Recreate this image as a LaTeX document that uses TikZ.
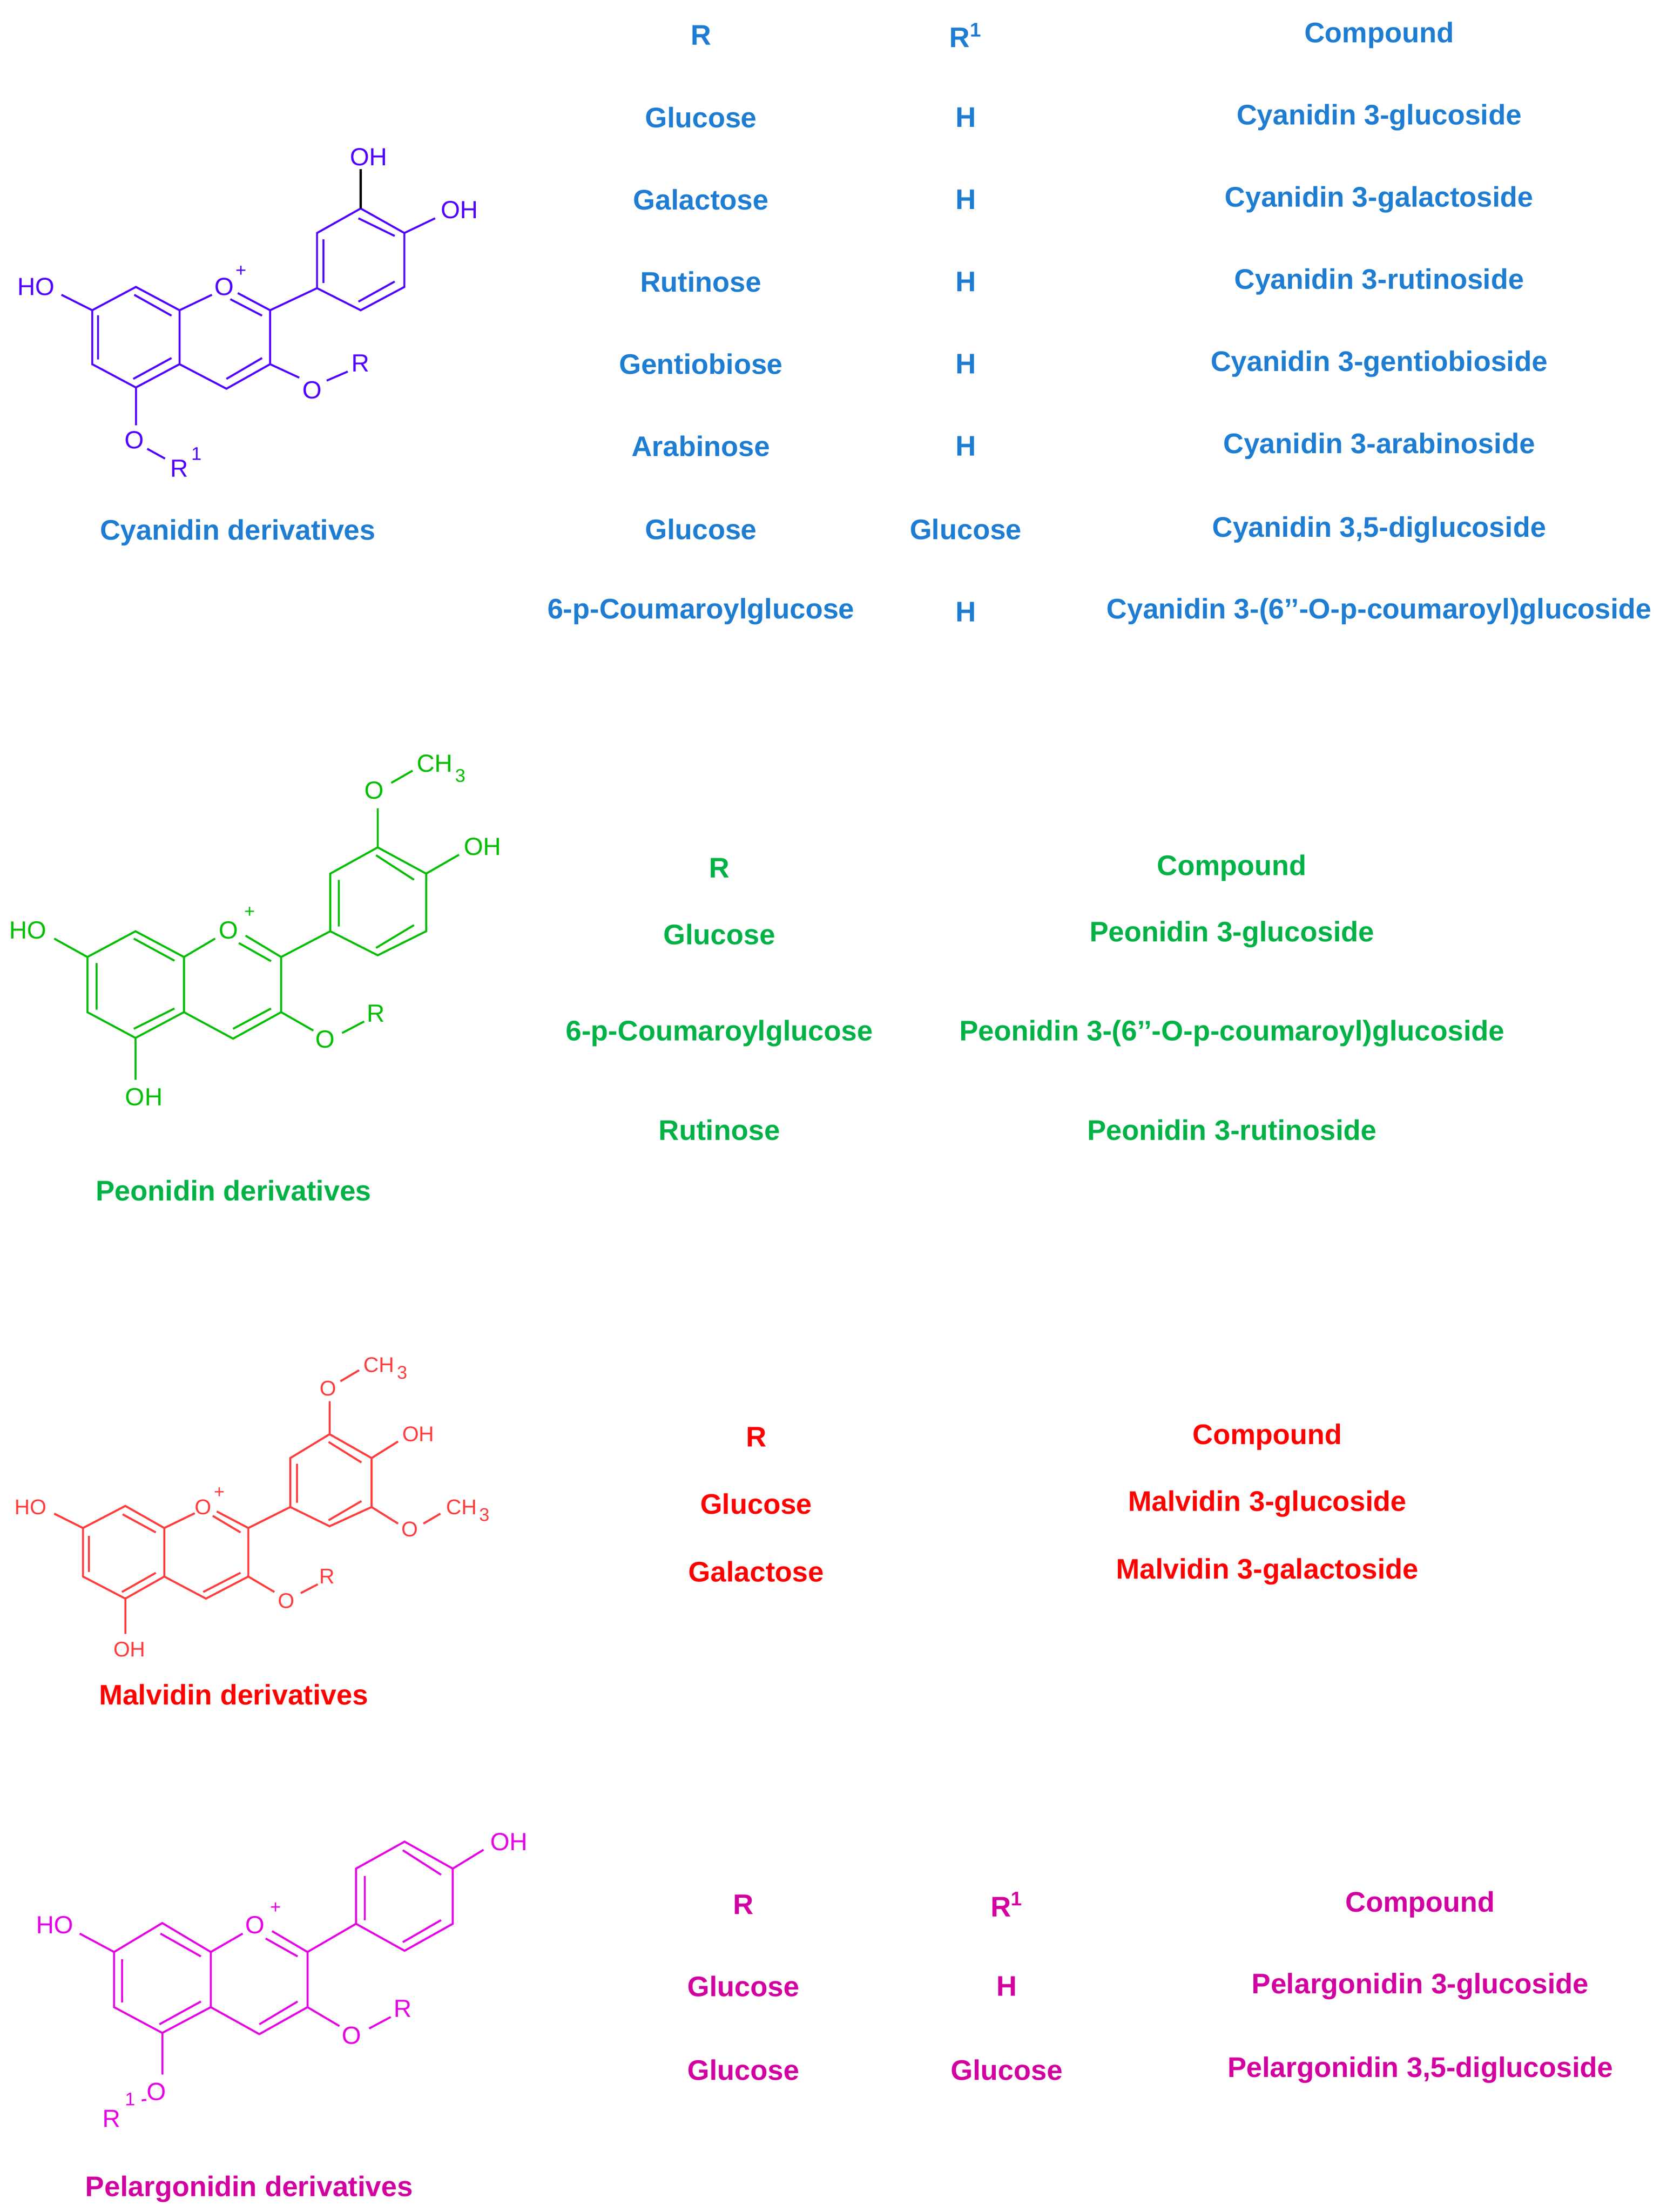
\documentclass[tikz,border=0pt]{standalone}
\usepackage{fontspec}
\setmainfont{Liberation Sans}
\definecolor{cyS}{RGB}{80,0,255}
\definecolor{cyT}{RGB}{30,125,210}
\definecolor{peS}{RGB}{0,190,0}
\definecolor{peT}{RGB}{0,178,70}
\definecolor{maS}{RGB}{255,60,60}
\definecolor{maT}{RGB}{255,0,0}
\definecolor{plS}{RGB}{230,0,230}
\definecolor{plT}{RGB}{210,0,160}
\tikzset{
 chem/.style={font=\fontsize{17.5}{17.5}\selectfont,inner sep=0pt},
 chems/.style={font=\fontsize{15}{15}\selectfont,inner sep=0pt},
 sup/.style={font=\fontsize{13}{13}\selectfont,inner sep=0pt},
 tab/.style={font=\fontsize{20}{20}\selectfont\bfseries,inner sep=0pt},
 bond/.style={line width=1.4pt}
}
\begin{document}
\begin{tikzpicture}[x=1pt,y=-1pt]
\fill[white] (0,0) rectangle (1172,1562.3);
\useasboundingbox (0,0) rectangle (1172,1562.3);
% ---------- Cyanidin ----------
\begin{scope}[shift={(0,84.9)},xscale=1/4.377,yscale=1/5.774,cyS,bond]
\draw (190,712)--(285,775)--(420,680)--(555,775)--(655,712);
\draw (415,712)--(530,797);
\draw (735,705)--(835,775)--(835,995)--(700,1095)--(555,995)--(555,775);
\draw (712,730)--(810,797); \draw (700,1055)--(810,970);
\draw (555,995)--(420,1090)--(285,995)--(285,775);
\draw (412,1055)--(530,970); \draw (303,975)--(303,795);
\draw (420,1090)--(420,1245); \draw (455,1340)--(510,1380);
\draw (835,995)--(925,1050); \draw (1010,1062)--(1075,1025);
\draw (835,775)--(980,685);
\draw (980,685)--(980,460)--(1115,360)--(1250,460)--(1250,680)--(1115,775)--cycle;
\draw (1000,665)--(1000,485); \draw (1108,400)--(1220,472); \draw (1108,740)--(1220,658);
\draw[black] (1115,360)--(1115,200); \draw (1250,460)--(1345,400);
\node[chem] (c1) at (112,680) {HO};
\node[chem] (c2) at (693,680) {O};
\node[sup] (c3) at (745,615) {+};
\node[chem] (c4) at (1140,150) {OH};
\node[chem] (c5) at (1420,365) {OH};
\node[chem] (c6) at (965,1100) {O};
\node[chem] (c7) at (1115,990) {R};
\node[chem] (c8) at (415,1305) {O};
\node[chem] (c9) at (555,1420) {R};
\node[sup] (c10) at (608,1360) {1};
\end{scope}
% ---------- Peonidin ----------
\begin{scope}[shift={(0,526.1)},xscale=1/4.18,yscale=1/5.774,peS,bond]
\draw (160,790)--(258,865)--(400,760)--(543,865)--(635,790);
\draw (395,790)--(515,880);
\draw (725,778)--(830,865)--(830,1090)--(688,1198)--(543,1090)--(543,865);
\draw (705,808)--(800,882); \draw (688,1158)--(800,1075);
\draw (543,1090)--(400,1195)--(258,1090)--(258,865);
\draw (395,1158)--(515,1075); \draw (285,1080)--(285,890);
\draw (400,1195)--(400,1365);
\draw (830,1090)--(925,1165); \draw (1010,1175)--(1075,1128);
\draw (830,865)--(975,760);
\draw (975,760)--(975,525)--(1115,418)--(1258,525)--(1258,760)--(1115,858)--cycle;
\draw (1000,740)--(1000,550); \draw (1110,450)--(1222,550); \draw (1110,828)--(1222,735);
\draw (1115,418)--(1115,258); \draw (1155,155)--(1218,105);
\draw (1258,525)--(1355,448);
\node[chem] (p1) at (82,755) {HO};
\node[chem] (p2) at (675,755) {O};
\node[sup] (p3) at (737,683) {+};
\node[chem] (p4) at (960,1200) {O};
\node[chem] (p5) at (1110,1095) {R};
\node[chem] (p6) at (425,1435) {OH};
\node[chem] (p7) at (1105,185) {O};
\node[chem] (p8) at (1283,75) {CH};
\node[sup] (p9) at (1360,125) {3};
\node[chem] (p10) at (1425,415) {OH};
\end{scope}
% ---------- Malvidin ----------
\begin{scope}[shift={(0,943.6)},xscale=1/4.18,yscale=1/6.416,maS,bond]
\draw (160,805)--(245,870)--(370,770)--(485,870)--(575,803);
\draw (362,808)--(460,890);
\draw (640,795)--(733,870)--(733,1090)--(608,1190)--(485,1090)--(485,870);
\draw (628,815)--(710,890); \draw (600,1160)--(710,1073);
\draw (485,1090)--(370,1190)--(245,1090)--(245,870);
\draw (360,1160)--(460,1073); \draw (263,1070)--(263,905);
\draw (370,1190)--(370,1350);
\draw (733,1090)--(810,1160); \draw (888,1165)--(938,1125);
\draw (733,870)--(857,775);
\draw (857,775)--(857,553)--(973,445)--(1097,553)--(1097,775)--(973,862)--cycle;
\draw (877,755)--(877,578); \draw (970,480)--(1067,573); \draw (970,835)--(1067,748);
\draw (973,445)--(973,295); \draw (1005,205)--(1060,155);
\draw (1097,553)--(1175,478);
\draw (1097,775)--(1175,850); \draw (1250,850)--(1300,805);
\node[chems] (m1) at (90,775) {HO};
\node[chems] (m2) at (600,775) {O};
\node[sup] (m3) at (648,710) {+};
\node[chems] (m4) at (845,1200) {O};
\node[chems] (m5) at (965,1090) {R};
\node[chems] (m6) at (382,1420) {OH};
\node[chems] (m7) at (968,238) {O};
\node[chems] (m8) at (1118,130) {CH};
\node[sup] (m9) at (1188,165) {3};
\node[chems] (m10) at (1235,445) {OH};
\node[chems] (m11) at (1210,875) {O};
\node[chems] (m12) at (1363,775) {CH};
\node[sup] (m13) at (1430,810) {3};
\end{scope}
% ---------- Pelargonidin ----------
\begin{scope}[shift={(0,1273)},xscale=1/3.997,yscale=1/5.774,plS,bond]
\draw (225,535)--(322,610)--(458,492)--(595,610)--(685,535);
\draw (453,535)--(567,628);
\draw (768,525)--(868,610)--(868,835)--(732,945)--(595,835)--(595,610);
\draw (750,555)--(840,628); \draw (732,905)--(840,812);
\draw (595,835)--(458,940)--(322,835)--(322,610);
\draw (450,905)--(567,812); \draw (345,815)--(345,640);
\draw (458,940)--(458,1110); \draw (400,1215)--(413,1213);
\draw (868,835)--(958,912); \draw (1042,922)--(1103,875);
\draw (868,610)--(1005,495);
\draw (1005,495)--(1005,270)--(1142,160)--(1278,270)--(1278,495)--(1142,605)--cycle;
\draw (1030,480)--(1030,300); \draw (1137,195)--(1245,295); \draw (1137,570)--(1245,480);
\draw (1278,270)--(1365,193);
\node[chem] (g1) at (155,500) {HO};
\node[chem] (g2) at (720,500) {O};
\node[sup] (g3) at (778,430) {+};
\node[chem] (g4) at (992,950) {O};
\node[chem] (g5) at (1137,840) {R};
\node[chem] (g6) at (442,1180) {O};
\node[chem] (g7) at (315,1290) {R};
\node[sup] (g8) at (368,1210) {1};
\node[chem] (g9) at (1437,160) {OH};
\end{scope}
% ---------- captions ----------
\node[tab,cyT] (cap1) at (168,376) {Cyanidin derivatives};
\node[tab,peT] (cap2) at (165,841) {Peonidin derivatives};
\node[tab,maT] (cap3) at (165,1197) {Malvidin derivatives};
\node[tab,plT] (cap4) at (176,1546) {Pelargonidin derivatives};
% ---------- Cyanidin table ----------
\begin{scope}[every node/.style={tab,cyT}]
\node (ch1) at (495,25) {R};
\node (ch2) at (682,25) {R\textsuperscript{1}};
\node (ch3) at (974,25) {Compound};
\node (ca1) at (495,83) {Glucose}; \node (cb1) at (682,83) {H}; \node (cc1) at (974,83) {Cyanidin 3-glucoside};
\node (ca2) at (495,141) {Galactose}; \node (cb2) at (682,141) {H}; \node (cc2) at (974,141) {Cyanidin 3-galactoside};
\node (ca3) at (495,199) {Rutinose}; \node (cb3) at (682,199) {H}; \node (cc3) at (974,199) {Cyanidin 3-rutinoside};
\node (ca4) at (495,257) {Gentiobiose}; \node (cb4) at (682,257) {H}; \node (cc4) at (974,257) {Cyanidin 3-gentiobioside};
\node (ca5) at (495,315) {Arabinose}; \node (cb5) at (682,315) {H}; \node (cc5) at (974,315) {Cyanidin 3-arabinoside};
\node (ca6) at (495,374) {Glucose}; \node (cb6) at (682,374) {Glucose}; \node (cc6) at (974,374) {Cyanidin 3,5-diglucoside};
\node (ca7) at (495,432) {6-p-Coumaroylglucose}; \node (cb7) at (682,432) {H}; \node (cc7) at (974,432) {Cyanidin 3-(6’’-O-p-coumaroyl)glucoside};
\end{scope}
% ---------- Peonidin table ----------
\begin{scope}[every node/.style={tab,peT}]
\node (ph1) at (508,613) {R}; \node (ph2) at (870,613) {Compound};
\node (pa1) at (508,660) {Glucose}; \node (pc1) at (870,660) {Peonidin 3-glucoside};
\node (pa2) at (508,730) {6-p-Coumaroylglucose}; \node (pc2) at (870,730) {Peonidin 3-(6’’-O-p-coumaroyl)glucoside};
\node (pa3) at (508,798) {Rutinose}; \node (pc3) at (870,798) {Peonidin 3-rutinoside};
\end{scope}
% ---------- Malvidin table ----------
\begin{scope}[every node/.style={tab,maT}]
\node (mh1) at (534,1015) {R}; \node (mh2) at (895,1015) {Compound};
\node (ma1) at (534,1062) {Glucose}; \node (mc1) at (895,1062) {Malvidin 3-glucoside};
\node (ma2) at (534,1110) {Galactose}; \node (mc2) at (895,1110) {Malvidin 3-galactoside};
\end{scope}
% ---------- Pelargonidin table ----------
\begin{scope}[every node/.style={tab,plT}]
\node (gh1) at (525,1345) {R}; \node (gh2) at (711,1345) {R\textsuperscript{1}}; \node (gh3) at (1003,1345) {Compound};
\node (ga1) at (525,1403) {Glucose}; \node (gb1) at (711,1403) {H}; \node (gc1) at (1003,1403) {Pelargonidin 3-glucoside};
\node (ga2) at (525,1462) {Glucose}; \node (gb2) at (711,1462) {Glucose}; \node (gc2) at (1003,1462) {Pelargonidin 3,5-diglucoside};
\end{scope}
\end{tikzpicture}
\end{document}
